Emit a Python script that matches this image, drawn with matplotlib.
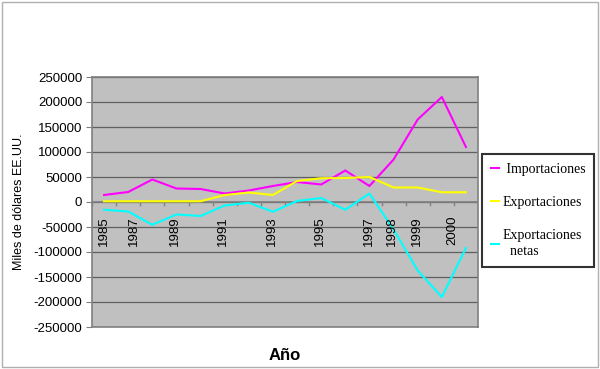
import matplotlib
matplotlib.use("Agg")
import matplotlib.pyplot as plt
from matplotlib.patches import Rectangle

# data (miles de dolares EE.UU.)
years = list(range(1985, 2001))
importaciones = [14000, 20000, 45000, 27000, 26000, 17000, 23000, 32000,
                 40000, 35000, 63000, 32000, 85000, 165000, 210000, 110000]
exportaciones = [1500, 1500, 1500, 1500, 1500, 14000, 19000, 14000,
                 42000, 47500, 48000, 50000, 29000, 29000, 19500, 19500]
netas = [-15500, -19000, -45500, -25000, -28000, -7000, -1500, -19500,
         2000, 8000, -15500, 17000, -55000, -137000, -190000, -92000]

# tick labels as they sit in the original (odd spacing kept)
label_text = ["1985", "1987", "1989", "1991", "1993", "1995", "1997", "1998", "1999", "2000"]
label_pos = [0, 1.25, 2.92, 4.93, 6.94, 8.96, 10.97, 11.94, 12.97, 14.44]

fig = plt.figure(figsize=(6, 3.69), dpi=100)
ax = fig.add_axes([92/600, 1 - 327/369, 386/600, 250/369])
ax.set_facecolor("#c0c0c0")

x = list(range(len(years)))
l1, = ax.plot(x, importaciones, color="#ff00ff", lw=1.5)
l2, = ax.plot(x, exportaciones, color="#ffff00", lw=1.5)
l3, = ax.plot(x, netas, color="#00ffff", lw=1.5)

ax.set_xlim(-0.5, len(years) - 0.5)
ax.set_ylim(-250000, 250000)
ax.set_yticks(range(-250000, 250001, 50000))
ax.set_yticklabels([str(v) for v in range(-250000, 250001, 50000)],
                   family="Liberation Sans", fontsize=9.5)
ax.tick_params(axis="y", length=4, color="#808080", pad=3)
ax.grid(axis="y", color="#606060", lw=0.9)
ax.set_axisbelow(True)
for s in ax.spines.values():
    s.set_color("#808080")
    s.set_linewidth(1.2)

# category axis at zero, ticks between categories
ax.set_xticks([])
ax.axhline(0, color="#808080", lw=1.2, zorder=1)
for i in range(len(years) + 1):
    ax.plot([i - 0.5, i - 0.5], [0, -5000], color="#808080", lw=1, zorder=1)
for t, p in zip(label_text, label_pos):
    ax.annotate(t, xy=(p, 0), xytext=(0, -10), textcoords="offset points",
                rotation=90, ha="center", va="top",
                family="Liberation Sans", fontsize=9.5)

ax.set_ylabel("Miles de dólares EE.UU.", family="Liberation Sans", fontsize=9, labelpad=6)
fig.text(285/600, 1 - 355/369, "Año", ha="center", va="center",
         family="Liberation Sans", fontsize=12, weight="bold")

leg = fig.legend([l1, l2, l3], [" Importaciones", "Exportaciones", "Exportaciones\n  netas"],
                 loc="upper left", bbox_to_anchor=(482/600, 1 - 154/369),
                 prop={"family": "Liberation Serif", "size": 10},
                 frameon=True, fancybox=False, handlelength=0.55, handletextpad=0.3,
                 labelspacing=1.45, borderpad=0.65, borderaxespad=0)
leg.get_frame().set_edgecolor("black")
leg.get_frame().set_linewidth(1.5)
leg.get_texts()[2].set_linespacing(1.3)

fig.patches.append(Rectangle((0.004, 0.005), 0.992, 0.99, transform=fig.transFigure,
                             fill=False, edgecolor="#b0b0b0", lw=1))

fig.savefig("out.png", dpi=100)
